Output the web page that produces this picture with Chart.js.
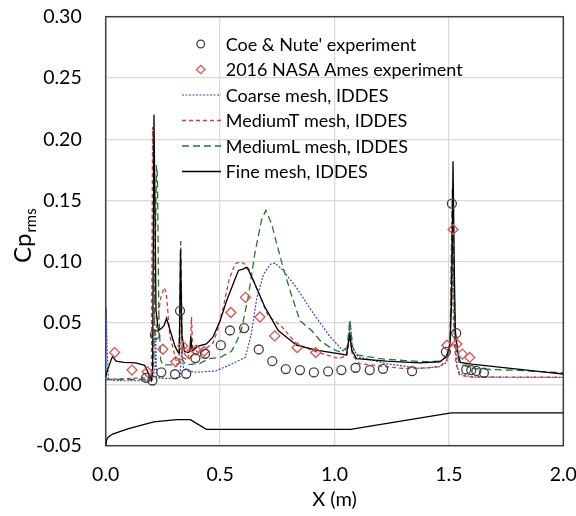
<!DOCTYPE html>
<html>
<head>
<meta charset="utf-8">
<script src="https://cdn.jsdelivr.net/npm/chart.js@4/dist/chart.umd.min.js"></script>
<style>
  body { margin: 0; background: #fff; }
</style>
</head>
<body>
<canvas id="graphique" width="576" height="516"></canvas>
<script>
// Axes
const xTicks = [0, 0.5, 1.0, 1.5, 2.0];
const yTicks = [-0.05, 0, 0.05, 0.10, 0.15, 0.20, 0.25, 0.30];

// Coe & Nute' experiment
const coeX = [0.177, 0.204, 0.215, 0.243, 0.303, 0.325, 0.352, 0.392, 0.434, 0.503, 0.543, 0.605, 0.669, 0.728, 0.787, 0.849, 0.910, 0.972, 1.030, 1.092, 1.154, 1.212, 1.339, 1.487, 1.513, 1.532, 1.576, 1.598, 1.620, 1.653];
const coeY = [0.0054, 0.0032, 0.0405, 0.0099, 0.0083, 0.0600, 0.0087, 0.0215, 0.0250, 0.0320, 0.0440, 0.0460, 0.0285, 0.0190, 0.0125, 0.0117, 0.0098, 0.0106, 0.0117, 0.0136, 0.0117, 0.0127, 0.0108, 0.0266, 0.1475, 0.0418, 0.0122, 0.0117, 0.0110, 0.0095];

// 2016 NASA Ames experiment
const amesX = [0.039, 0.115, 0.182, 0.250, 0.306, 0.337, 0.365, 0.395, 0.430, 0.547, 0.611, 0.674, 0.739, 0.837, 0.918, 1.491, 1.518, 1.535, 1.559, 1.591];
const amesY = [0.0260, 0.0117, 0.0103, 0.0287, 0.0185, 0.0313, 0.0250, 0.0280, 0.0270, 0.0587, 0.0710, 0.0550, 0.0396, 0.0300, 0.0260, 0.0320, 0.1264, 0.0330, 0.0247, 0.0220];

// Coarse mesh, IDDES
const coarseX = [0, 0.002, 0.006, 0.012, 0.05, 0.18, 0.205, 0.215, 0.218, 0.222, 0.24, 0.3, 0.325, 0.332, 0.34, 0.36, 0.4, 0.48, 0.54, 0.61, 0.635, 0.66, 0.69, 0.72, 0.74, 0.77, 0.83, 0.9, 0.98, 1.04, 1.058, 1.068, 1.078, 1.103, 1.227, 1.372, 1.46, 1.49, 1.505, 1.515, 1.525, 1.535, 1.547, 1.6, 1.8, 2.0];
const coarseY = [0.003, 0.063, 0.03, 0.004, 0.003, 0.003, 0.004, 0.013, 0.045, 0.006, 0.005, 0.005, 0.006, 0.03, 0.013, 0.011, 0.010, 0.011, 0.0157, 0.022, 0.040, 0.070, 0.090, 0.098, 0.099, 0.094, 0.080, 0.060, 0.039, 0.027, 0.030, 0.052, 0.030, 0.0225, 0.017, 0.013, 0.0144, 0.018, 0.030, 0.130, 0.040, 0.015, 0.009, 0.006, 0.0058, 0.0058];

// MediumT mesh, IDDES
const medTX = [0, 0.18, 0.195, 0.2, 0.205, 0.21, 0.215, 0.225, 0.24, 0.255, 0.265, 0.28, 0.31, 0.322, 0.327, 0.335, 0.36, 0.37, 0.375, 0.38, 0.41, 0.47, 0.49, 0.514, 0.54, 0.565, 0.59, 0.61, 0.63, 0.66, 0.71, 0.77, 0.834, 0.92, 1.02, 1.055, 1.067, 1.078, 1.11, 1.2, 1.3, 1.4, 1.46, 1.49, 1.505, 1.513, 1.52, 1.53, 1.545, 1.58, 1.7, 2.0];
const medTY = [0.004, 0.0055, 0.006, 0.01, 0.21, 0.15, 0.04, 0.05, 0.07, 0.079, 0.075, 0.04, 0.018, 0.02, 0.08, 0.022, 0.02, 0.03, 0.055, 0.03, 0.025, 0.034, 0.045, 0.063, 0.086, 0.0985, 0.100, 0.098, 0.093, 0.078, 0.056, 0.047, 0.033, 0.0266, 0.021, 0.024, 0.040, 0.024, 0.017, 0.015, 0.013, 0.0135, 0.0145, 0.020, 0.030, 0.120, 0.050, 0.018, 0.008, 0.0062, 0.006, 0.0058];

// MediumL mesh, IDDES
const medLX = [0, 0.18, 0.2, 0.21, 0.222, 0.226, 0.232, 0.24, 0.25, 0.3, 0.32, 0.328, 0.335, 0.35, 0.41, 0.45, 0.5, 0.55, 0.575, 0.595, 0.623, 0.652, 0.681, 0.70, 0.725, 0.77, 0.805, 0.849, 0.9, 0.936, 0.99, 1.023, 1.055, 1.067, 1.08, 1.1, 1.2, 1.3, 1.4, 1.46, 1.49, 1.505, 1.515, 1.522, 1.53, 1.545, 1.6, 1.7, 1.8, 1.9, 2.0];
const medLY = [0.004, 0.004, 0.005, 0.02, 0.179, 0.17, 0.06, 0.02, 0.016, 0.016, 0.017, 0.117, 0.02, 0.016, 0.017, 0.021, 0.022, 0.027, 0.036, 0.046, 0.0715, 0.107, 0.134, 0.142, 0.131, 0.099, 0.077, 0.052, 0.044, 0.036, 0.029, 0.0266, 0.030, 0.052, 0.030, 0.024, 0.021, 0.0195, 0.0185, 0.019, 0.023, 0.033, 0.160, 0.080, 0.030, 0.017, 0.013, 0.012, 0.0115, 0.0105, 0.0095];

// Fine mesh, IDDES
const fineX = [0, 0.005, 0.02, 0.03, 0.045, 0.08, 0.13, 0.17, 0.185, 0.195, 0.2, 0.205, 0.211, 0.215, 0.22, 0.23, 0.245, 0.255, 0.266, 0.28, 0.303, 0.317, 0.322, 0.327, 0.333, 0.345, 0.36, 0.368, 0.372, 0.378, 0.4, 0.44, 0.47, 0.5, 0.53, 0.557, 0.58, 0.6, 0.615, 0.625, 0.652, 0.696, 0.754, 0.834, 0.92, 1.023, 1.052, 1.067, 1.075, 1.096, 1.227, 1.372, 1.46, 1.489, 1.505, 1.512, 1.518, 1.524, 1.528, 1.54, 1.55, 1.6, 1.7, 1.8, 1.9, 2.0];
const fineY = [0.006, 0.01, 0.018, 0.023, 0.019, 0.018, 0.0175, 0.0155, 0.01, 0.004, 0.003, 0.01, 0.22, 0.15, 0.06, 0.044, 0.046, 0.048, 0.054, 0.045, 0.031, 0.026, 0.026, 0.11, 0.04, 0.027, 0.026, 0.027, 0.039, 0.027, 0.031, 0.033, 0.039, 0.052, 0.069, 0.082, 0.093, 0.094, 0.0955, 0.093, 0.082, 0.063, 0.044, 0.032, 0.028, 0.025, 0.024, 0.041, 0.028, 0.021, 0.019, 0.0176, 0.0185, 0.0225, 0.033, 0.07, 0.182, 0.09, 0.044, 0.025, 0.018, 0.0165, 0.0145, 0.0125, 0.0105, 0.0085];

// Geometry outline (not in legend)
const geomX = [0, 0.003, 0.01, 0.03, 0.1, 0.21, 0.31, 0.37, 0.44, 1.07, 1.51, 2.0];
const geomY = [-0.05, -0.046, -0.043, -0.0405, -0.036, -0.0305, -0.0287, -0.0287, -0.0367, -0.0367, -0.0232, -0.0232];

const fonte = "Lato, 'Open Sans', sans-serif";

function points(xs, ys) {
  return xs.map((x, i) => ({ x: x, y: ys[i] }));
}

const legende = [
  { label: "Coe & Nute' experiment", type: "circle", color: "#404040" },
  { label: "2016 NASA Ames experiment", type: "diamond", color: "#e0504f" },
  { label: "Coarse mesh, IDDES", type: "line", color: "#3548c0", dash: [2, 1.5], width: 1.2 },
  { label: "MediumT mesh, IDDES", type: "line", color: "#d43c3c", dash: [4, 3], width: 1.3 },
  { label: "MediumL mesh, IDDES", type: "line", color: "#1d7a30", dash: [7, 4], width: 1.3 },
  { label: "Fine mesh, IDDES", type: "line", color: "#000000", dash: [], width: 1.3 }
];

// pas de marge automatique autour des axes
function sansMarge(s) {
  s.paddingTop = 0;
  s.paddingBottom = 0;
  s.paddingLeft = 0;
  s.paddingRight = 0;
}

// Legende dessinée dans la zone du graphique
const pluginLegende = {
  id: "legendeInterne",
  afterDraw(chart) {
    const ctx = chart.ctx;
    ctx.save();
    ctx.font = "18px " + fonte;
    ctx.textBaseline = "middle";
    ctx.textAlign = "left";
    for (let i = 0; i < legende.length; i++) {
      const item = legende[i];
      const y = 44 + i * 25.5;
      ctx.strokeStyle = item.color;
      if (item.type === "circle") {
        ctx.lineWidth = 1.3;
        ctx.setLineDash([]);
        ctx.beginPath();
        ctx.arc(200.7, y, 3.8, 0, Math.PI * 2);
        ctx.stroke();
      } else if (item.type === "diamond") {
        ctx.lineWidth = 1.3;
        ctx.setLineDash([]);
        ctx.beginPath();
        ctx.moveTo(200.7, y - 4.2);
        ctx.lineTo(204.9, y);
        ctx.lineTo(200.7, y + 4.2);
        ctx.lineTo(196.5, y);
        ctx.closePath();
        ctx.stroke();
      } else {
        ctx.lineWidth = item.width;
        ctx.setLineDash(item.dash);
        ctx.beginPath();
        ctx.moveTo(182, y);
        ctx.lineTo(221, y);
        ctx.stroke();
      }
      ctx.setLineDash([]);
      ctx.fillStyle = "#000";
      ctx.fillText(item.label, 225.7, y + 1);
    }

    // Titre de l'axe Y : Cp avec indice rms
    ctx.translate(31, 263);
    ctx.rotate(-Math.PI / 2);
    ctx.textBaseline = "alphabetic";
    ctx.font = "24px " + fonte;
    ctx.fillText("Cp", 0, 0);
    const largeur = ctx.measureText("Cp").width;
    ctx.font = "15px " + fonte;
    ctx.fillText("rms", largeur + 1, 5);
    ctx.restore();
  },
  beforeDatasetsDraw(chart) {
    const a = chart.chartArea;
    const ctx = chart.ctx;
    ctx.save();
    ctx.strokeStyle = "#404040";
    ctx.lineWidth = 1.5;
    ctx.strokeRect(a.left, a.top, a.right - a.left, a.bottom - a.top);
    ctx.restore();
  }
};

const lignes = [
  { data: points(fineX, fineY), borderColor: "#000000", borderWidth: 1.3, borderDash: [], order: 1 },
  { data: points(medLX, medLY), borderColor: "#1d7a30", borderWidth: 1.3, borderDash: [7, 4], order: 2 },
  { data: points(medTX, medTY), borderColor: "#d43c3c", borderWidth: 1.3, borderDash: [4, 3], order: 3 },
  { data: points(coarseX, coarseY), borderColor: "#3548c0", borderWidth: 1.2, borderDash: [2, 1.5], order: 4 },
  { data: points(geomX, geomY), borderColor: "#000000", borderWidth: 1.3, borderDash: [], order: 5 }
].map(d => Object.assign(d, { showLine: true, pointRadius: 0, tension: 0, fill: false }));

const config = {
  type: "scatter",
  data: {
    datasets: [
      {
        data: points(coeX, coeY),
        pointStyle: "circle",
        pointRadius: 4.5,
        borderColor: "#404040",
        backgroundColor: "rgba(0,0,0,0)",
        borderWidth: 1.3,
        order: 0
      },
      {
        data: points(amesX, amesY),
        pointStyle: "rectRot",
        pointRadius: 5,
        borderColor: "#e0504f",
        backgroundColor: "rgba(0,0,0,0)",
        borderWidth: 1.3,
        order: 0
      },
      ...lignes
    ]
  },
  options: {
    responsive: false,
    animation: false,
    layout: { padding: { top: 16.7, right: 12.7, left: 0, bottom: 0 } },
    plugins: {
      legend: { display: false },
      tooltip: { enabled: false }
    },
    scales: {
      x: {
        type: "linear",
        min: 0,
        max: 2,
        afterBuildTicks: s => { s.ticks = xTicks.map(v => ({ value: v })); },
        afterFit: s => { s.height = 70.3; sansMarge(s); },
        border: { display: false },
        grid: { color: "#d9d9d9", lineWidth: 1.3, drawTicks: false },
        ticks: {
          padding: 17,
          color: "#000",
          font: { family: fonte, size: 19.5 },
          callback: v => v.toFixed(1)
        },
        title: {
          display: true,
          text: "X (m)",
          color: "#000",
          font: { family: fonte, size: 20 },
          padding: { top: 0, bottom: 4 }
        }
      },
      y: {
        type: "linear",
        min: -0.05,
        max: 0.30,
        afterBuildTicks: s => { s.ticks = yTicks.map(v => ({ value: v })); },
        afterFit: s => { s.width = 105.7; sansMarge(s); },
        border: { display: false },
        grid: { color: "#d9d9d9", lineWidth: 1.3, drawTicks: false },
        ticks: {
          padding: 24,
          color: "#000",
          font: { family: fonte, size: 19.5 },
          callback: v => v.toFixed(2)
        }
      }
    }
  },
  plugins: [pluginLegende]
};

new Chart(document.querySelector("#graphique"), config);
</script>
</body>
</html>
